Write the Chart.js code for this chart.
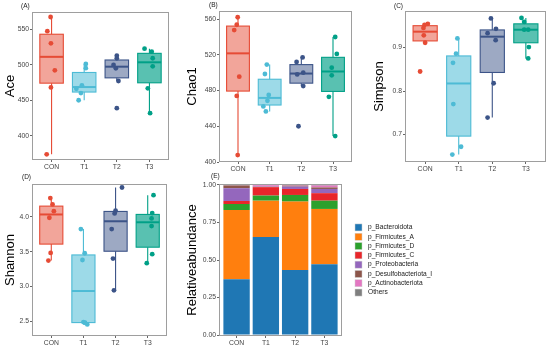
<!DOCTYPE html>
<html>
<head>
<meta charset="utf-8">
<script src="https://cdn.jsdelivr.net/npm/chart.js@4.4.1/dist/chart.umd.min.js"></script>
<style>
  body { margin: 0; background: #fff; width: 550px; height: 348px; position: relative; overflow: hidden; font-family: "Liberation Sans", Arial, sans-serif; }
  .pan { position: absolute; }
  .tag { position: absolute; font-size: 6.5px; color: #222; }
</style>
</head>
<body>
<div class="pan" style="left:0;top:0;width:175px;height:175px"><canvas id="chartAce"></canvas></div>
<div class="pan" style="left:180px;top:0;width:180px;height:175px"><canvas id="chartChao"></canvas></div>
<div class="pan" style="left:365px;top:0;width:185px;height:175px"><canvas id="chartSimpson"></canvas></div>
<div class="pan" style="left:0;top:172px;width:175px;height:176px"><canvas id="chartShannon"></canvas></div>
<div class="pan" style="left:180px;top:172px;width:370px;height:176px"><canvas id="chartAbund"></canvas></div>
<div class="tag" style="left:21px;top:2px">(A)</div>
<div class="tag" style="left:209px;top:1px">(B)</div>
<div class="tag" style="left:394px;top:2px">(C)</div>
<div class="tag" style="left:22px;top:173px">(D)</div>
<div class="tag" style="left:211px;top:172px">(E)</div>
<script>
const FONT = "'Liberation Sans', Arial, sans-serif";

const groups = ["CON", "T1", "T2", "T3"];
const groupColors = ["#E64B35", "#4DBBD5", "#3C5488", "#00A087"];
const groupFills = ["rgba(230,75,53,0.5)", "rgba(77,187,213,0.55)", "rgba(60,84,136,0.5)", "rgba(0,160,135,0.65)"];

// alpha diversity, one list per group (CON, T1, T2, T3)
const ace = [
  [567, 547, 530, 492, 468, 374],
  [501, 495, 471, 466, 460, 450],
  [512.6, 508.9, 499.5, 494.8, 477, 438.8],
  [522.4, 518.2, 509, 497.6, 466.8, 431.8]
];
const aceJitter = [[-0.03, -0.13, -0.02, 0.1, -0.02, -0.15], [0.05, 0.05, -0.07, -0.24, -0.1, -0.17], [0, 0, -0.1, -0.03, 0.05, 0], [-0.15, 0.07, 0.1, 0.1, -0.05, 0.02]];
const aceTicks = [400, 450, 500, 550];

const chao1 = [
  [562, 553.6, 547.7, 495.5, 474, 407.8],
  [509, 498.5, 475, 468.5, 462.2, 456.6],
  [517, 512, 500, 498, 485, 440],
  [539.9, 521, 505.6, 497, 473, 429]
];
const chao1Jitter = [[-0.01, -0.04, -0.12, 0.04, -0.04, -0.01], [-0.09, -0.15, -0.03, -0.07, -0.2, -0.12], [0.04, -0.15, 0.06, -0.13, 0.06, -0.09], [0.07, 0.12, -0.04, -0.04, -0.13, 0.07]];
const chao1Ticks = [400, 440, 480, 520, 560];

const simpson = [
  [0.9545, 0.952, 0.945, 0.928, 0.911, 0.845],
  [0.921, 0.886, 0.865, 0.770, 0.672, 0.654],
  [0.967, 0.943, 0.933, 0.917, 0.818, 0.739],
  [0.968, 0.959, 0.941, 0.941, 0.901, 0.875]
];
const simpsonJitter = [[0.08, -0.02, -0.05, -0.04, 0, -0.15], [-0.04, -0.08, -0.17, -0.16, 0.07, -0.19], [-0.04, 0.11, -0.14, 0.1, 0.04, -0.14], [-0.13, -0.05, -0.05, 0.07, 0.09, 0.07]];
const simpsonTicks = [0.7, 0.8, 0.9];

const shannon = [
  [4.268, 4.177, 4.08, 3.986, 3.482, 3.372],
  [3.823, 3.477, 3.38, 2.49, 2.48, 2.456],
  [4.42, 4.086, 4.048, 3.823, 3.40, 2.945],
  [4.31, 4.053, 3.976, 3.866, 3.463, 3.334]
];
const shannonJitter = [[-0.03, 0.04, 0.08, -0.06, -0.02, -0.09], [-0.08, 0.04, -0.03, 0, 0.05, 0.12], [0.2, 0, -0.03, -0.12, -0.08, -0.05], [0.18, 0.14, 0.12, 0.12, 0.14, -0.03]];
const shannonTicks = [2.5, 3.0, 3.5, 4.0];

// relative abundance (phylum level)
const phyla = ["p_Bacteroidota", "p_Firmicutes_A", "p_Firmicutes_D", "p_Firmicutes_C", "p_Proteobacteria", "p_Desulfobacteriota_I", "p_Actinobacteriota", "Others"];
const phylaColors = ["#1F77B4", "#FF7F0E", "#2CA02C", "#E8262B", "#9467BD", "#8C564B", "#E377C2", "#7F7F7F"];
const bacteroidota = [0.372, 0.653, 0.434, 0.472];
const firmicutesA = [0.461, 0.242, 0.455, 0.368];
const firmicutesD = [0.040, 0.034, 0.044, 0.055];
const firmicutesC = [0.020, 0.056, 0.040, 0.050];
const proteobacteria = [0.085, 0.003, 0.016, 0.028];
const desulfobacteriota = [0.018, 0.002, 0.006, 0.010];
const actinobacteriota = [0.001, 0.008, 0.003, 0.013];
const others = [0.003, 0.002, 0.002, 0.004];
const abundTicks = [0, 0.25, 0.5, 0.75, 1];

// quantile type 7, same as R
function quant(s, p) {
  const h = (s.length - 1) * p;
  const lo = Math.floor(h);
  const hi = Math.min(lo + 1, s.length - 1);
  return s[lo] + (h - lo) * (s[hi] - s[lo]);
}
function boxStats(vals) {
  const s = vals.slice().sort((a, b) => a - b);
  const q1 = quant(s, 0.25), med = quant(s, 0.5), q3 = quant(s, 0.75);
  const iqr = q3 - q1;
  const inside = s.filter(v => v >= q1 - 1.5 * iqr && v <= q3 + 1.5 * iqr);
  return { q1, med, q3, lo: inside[0], hi: inside[inside.length - 1] };
}

const boxPlugin = {
  id: "boxes",
  beforeDatasetsDraw(chart, args, opts) {
    if (!opts.groups) return;
    const ctx = chart.ctx, x = chart.scales.x, y = chart.scales.y;
    const half = 0.36;
    opts.groups.forEach((vals, i) => {
      const st = boxStats(vals);
      const xl = x.getPixelForValue(i - half), xr = x.getPixelForValue(i + half), xc = x.getPixelForValue(i);
      const yt = y.getPixelForValue(st.q3), yb = y.getPixelForValue(st.q1);
      ctx.save();
      ctx.strokeStyle = groupColors[i];
      ctx.lineWidth = 1.1;
      ctx.beginPath();
      ctx.moveTo(xc, y.getPixelForValue(st.hi));
      ctx.lineTo(xc, yt);
      ctx.moveTo(xc, yb);
      ctx.lineTo(xc, y.getPixelForValue(st.lo));
      ctx.stroke();
      ctx.fillStyle = groupFills[i];
      ctx.fillRect(xl, yt, xr - xl, yb - yt);
      ctx.strokeRect(xl, yt, xr - xl, yb - yt);
      ctx.lineWidth = 2;
      ctx.beginPath();
      ctx.moveTo(xl, y.getPixelForValue(st.med));
      ctx.lineTo(xr, y.getPixelForValue(st.med));
      ctx.stroke();
      ctx.restore();
    });
  }
};

const framePlugin = {
  id: "frame",
  afterDraw(chart) {
    const a = chart.chartArea, c = chart.ctx;
    c.save();
    c.strokeStyle = "#9E9E9E";
    c.lineWidth = 1;
    c.strokeRect(Math.round(a.left) + 0.5, Math.round(a.top) + 0.5, Math.round(a.right - a.left) - 1, Math.round(a.bottom - a.top) - 1);
    c.restore();
  }
};

const sideLegend = {
  id: "sideLegend",
  afterDraw(chart) {
    const ctx = chart.ctx, a = chart.chartArea, ds = chart.data.datasets;
    const step = 9.3, box = 7;
    const x0 = a.right + 13;
    const y0 = (a.top + a.bottom) / 2 - (ds.length * step - (step - box)) / 2;
    ctx.save();
    ctx.font = "6.6px " + FONT;
    ctx.textBaseline = "middle";
    ds.forEach((d, i) => {
      const yy = y0 + i * step;
      ctx.fillStyle = d.backgroundColor;
      ctx.fillRect(x0, yy, box, box);
      ctx.strokeStyle = "#d0d0d0";
      ctx.lineWidth = 0.5;
      ctx.strokeRect(x0, yy, box, box);
      ctx.fillStyle = "#1a1a1a";
      ctx.fillText(d.label, x0 + box + 6, yy + box / 2);
    });
    ctx.restore();
  }
};

const tickFont = { family: FONT, size: 6.8 };

function xScale(h) {
  return {
    type: "linear", min: -0.6, max: 3.6, offset: false,
    afterBuildTicks: (a) => { a.ticks = groups.map((g, i) => ({ value: i })); },
    afterFit: (a) => { a.height = h; },
    ticks: { callback: (v) => groups[Math.round(v)], color: "#444", font: tickFont, padding: 1, maxRotation: 0, autoSkip: false },
    grid: { drawOnChartArea: false, tickLength: 2, color: "#666", offset: false },
    border: { display: false }
  };
}

function yScale(min, max, ticks, title, fmt, w, tpad) {
  return {
    type: "linear", min: min, max: max,
    afterBuildTicks: (a) => { a.ticks = ticks.map(v => ({ value: v })); },
    afterFit: (a) => { a.width = w; },
    ticks: { callback: fmt, color: "#444", font: tickFont, padding: 1 },
    grid: { drawOnChartArea: false, tickLength: 2, color: "#666" },
    border: { display: false },
    title: { display: true, text: title, color: "#000", font: { family: FONT, size: 13 }, padding: { top: tpad, bottom: 0 } }
  };
}

function boxChart(id, vals, jitter, ticks, ymin, ymax, title, fmt, lay) {
  const pts = [], cols = [];
  vals.forEach((g, i) => g.forEach((v, j) => {
    pts.push({ x: i + jitter[i][j], y: v });
    cols.push(groupColors[i]);
  }));
  return new Chart(document.getElementById(id), {
    type: "scatter",
    data: { datasets: [{ data: pts, backgroundColor: cols, borderWidth: 0, pointRadius: 2.4 }] },
    options: {
      responsive: true, maintainAspectRatio: false, animation: false,
      layout: { padding: { top: lay.top, right: lay.right, left: 0, bottom: 0 } },
      plugins: { legend: { display: false }, tooltip: { enabled: false }, boxes: { groups: vals } },
      scales: {
        x: xScale(lay.xh),
        y: yScale(ymin, ymax, ticks, title, fmt, lay.yw, lay.tpad)
      }
    },
    plugins: [boxPlugin, framePlugin]
  });
}

boxChart("chartAce", ace, aceJitter, aceTicks, 366, 574, "Ace", v => String(v), { top: 12, right: 6, xh: 15, yw: 32, tpad: 3 });
boxChart("chartChao", chao1, chao1Jitter, chao1Ticks, 400, 569, "Chao1", v => String(v), { top: 11, right: 8, xh: 13, yw: 39, tpad: 5 });
boxChart("chartSimpson", simpson, simpsonJitter, simpsonTicks, 0.637, 0.984, "Simpson", v => v.toFixed(1), { top: 11, right: 4, xh: 13, yw: 40, tpad: 7 });
boxChart("chartShannon", shannon, shannonJitter, shannonTicks, 2.29, 4.47, "Shannon", v => v.toFixed(1), { top: 12, right: 8, xh: 12, yw: 32, tpad: 3 });

const abundSeries = [bacteroidota, firmicutesA, firmicutesD, firmicutesC, proteobacteria, desulfobacteriota, actinobacteriota, others];

new Chart(document.getElementById("chartAbund"), {
  type: "bar",
  data: {
    datasets: phyla.map((p, k) => ({
      label: p,
      data: abundSeries[k].map((v, i) => ({ x: i, y: v })),
      backgroundColor: phylaColors[k],
      borderWidth: 0,
      barPercentage: 0.9,
      categoryPercentage: 1
    }))
  },
  options: {
    responsive: true, maintainAspectRatio: false, animation: false,
    layout: { padding: { top: 12, right: 208, left: 0, bottom: 0 } },
    plugins: { legend: { display: false }, tooltip: { enabled: false } },
    scales: {
      x: Object.assign(xScale(12), { stacked: true }),
      y: Object.assign(yScale(-0.006, 1.006, abundTicks, "Relativeabundance", v => v.toFixed(2), 39, 5), { stacked: true })
    }
  },
  plugins: [framePlugin, sideLegend]
});
</script>
</body>
</html>
